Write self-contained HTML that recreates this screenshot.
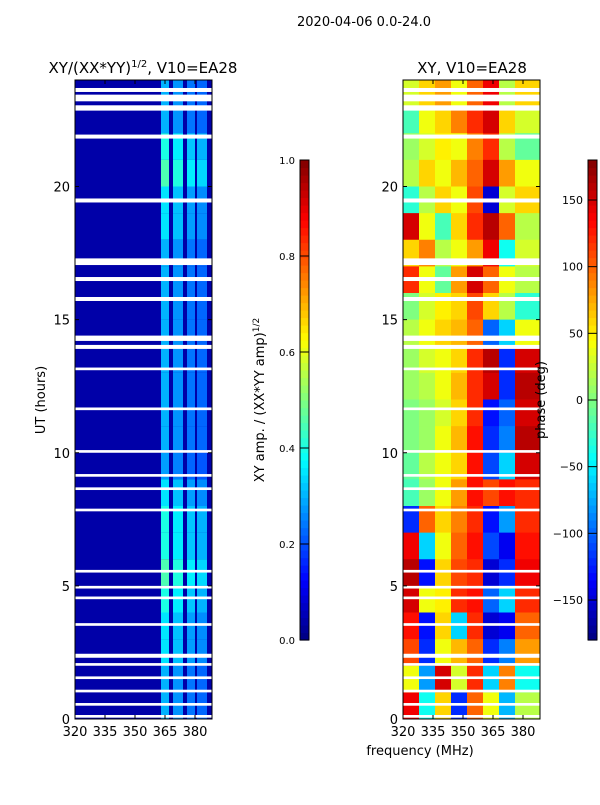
<!DOCTYPE html>
<html><head><meta charset="utf-8"><style>
body{margin:0;background:#fff;font-family:"Liberation Sans","DejaVu Sans",sans-serif;}
svg text{font-family:"DejaVu Sans","Liberation Sans",sans-serif;}
</style></head><body>
<svg id="fig" width="600" height="800" xmlns="http://www.w3.org/2000/svg">
<rect width="600" height="800" fill="#fff"/>
<text x="364" y="26" font-size="13" text-anchor="middle">2020-04-06 0.0-24.0</text>
<text x="143" y="73" font-size="15" text-anchor="middle">XY/(XX*YY)<tspan font-size="10" dy="-6">1/2</tspan><tspan dy="6">, V10=EA28</tspan></text>
<text x="472" y="73" font-size="15" text-anchor="middle">XY, V10=EA28</text>
<g id="p1"></g>
<g id="p2"></g>
<g id="cb1"></g>
<g id="cb2"></g>
<text transform="translate(45,400) rotate(-90)" font-size="13" text-anchor="middle">UT (hours)</text>
<text transform="translate(264,400) rotate(-90)" font-size="13" text-anchor="middle">XY amp. / (XX*YY amp)<tspan font-size="9" dy="-5">1/2</tspan></text>
<text transform="translate(545,400) rotate(-90)" font-size="13" text-anchor="middle">phase (deg)</text>
<text x="420" y="755" font-size="13" text-anchor="middle">frequency (MHz)</text>
</svg>
<script>
const hours=[23,22,21,20,19,18,17,16,15,14,13,12,11,10,9,8,7,6,5,4,3,2,1,0];
const ampBandLevel=[0.3,0.3,0.4,0.45,0.35,0.35,0.3,0.3,0.3,0.3,0.3,0.3,0.3,0.3,0.28,0.35,0.4,0.4,0.45,0.4,0.35,0.35,0.3,0.3];
const ampBandEdges=[[363,367,1.0],[369,374,0.9],[376,380,0.8],[381,386,0.75]];
const phaseColEdges=[320,328,336,344,352,360,368,376,388.5];
const phaseVals=[
[30,60,80,40,100,140,20,60],[-20,40,60,90,120,150,60,30],[10,30,50,40,90,120,20,-10],
[20,60,40,70,100,150,80,40],[-30,20,60,40,110,-150,30,60],[150,40,-20,60,120,160,100,20],
[60,90,20,40,80,140,-40,30],[120,40,-10,80,150,100,40,20],[0,30,50,60,110,60,20,-30],
[20,40,60,70,100,-100,-60,40],[10,30,40,60,120,160,-120,150],[10,20,40,70,120,150,-120,160],
[0,10,30,60,120,-130,-100,150],[0,10,40,70,130,-120,-90,160],[-10,20,40,60,130,-110,-60,150],
[-20,10,40,80,130,110,130,120],[-120,100,60,90,120,-130,-80,120],[140,-60,40,100,130,-110,-140,130],
[160,-130,60,110,120,-150,-120,140],[150,40,50,120,130,-100,-60,120],[130,-130,60,-60,120,-150,-140,100],
[110,-120,40,70,100,-120,-90,80],[40,-80,150,30,120,-60,90,-40],[140,-40,60,-120,100,40,-70,20]];
const gaps=[[23.2,23.45],[23.55,23.7],[22.85,23.05],[21.8,21.95],[19.4,19.55],[17.05,17.3],[16.45,16.6],[15.7,15.85],[14.2,14.4],[13.9,14.05],[13.1,13.2],[11.6,11.7],[10.0,10.1],[9.1,9.2],[8.6,8.7],[7.8,7.9],[5.5,5.6],[4.9,5.0],[4.5,4.6],[3.5,3.6],[2.3,2.45],[2.0,2.1],[1.5,1.6],[1.0,1.1],[0.5,0.6],[0.05,0.15]];
const xTicks=[320,335,350,365,380];
const yTicks=[0,5,10,15,20];
const ampTicks=[0.0,0.2,0.4,0.6,0.8,1.0];
const phaseTicks=[-150,-100,-50,0,50,100,150];
const NS="http://www.w3.org/2000/svg";
function jet(v){v=Math.max(0,Math.min(1,v));const f=t=>Math.round(255*Math.max(0,Math.min(1,1.5-Math.abs(4*v-t))));return `rgb(${f(3)},${f(2)},${f(1)})`;}
function el(p,t,a){const e=document.createElementNS(NS,t);for(const k in a)e.setAttribute(k,a[k]);p.appendChild(e);return e;}
const fMin=320,fMax=388.5,yTop=80,yBot=719;
function mkX(x0,x1){return f=>x0+(f-fMin)/(fMax-fMin)*(x1-x0);}
const yS=h=>yBot-h/24*(yBot-yTop);
function axes(g,x0,x1){const xs=mkX(x0,x1);
 gaps.forEach(gp=>{const r=el(g,'rect',{x:x0,y:yS(gp[1]),width:x1-x0,height:yS(gp[0])-yS(gp[1]),fill:'#fff'});});
 el(g,'rect',{x:x0,y:yTop,width:x1-x0,height:yBot-yTop,fill:'none',stroke:'#000'});
 xTicks.forEach(t=>{const x=xs(t);el(g,'line',{x1:x,x2:x,y1:yBot,y2:yBot-4,stroke:'#000'});el(g,'line',{x1:x,x2:x,y1:yTop,y2:yTop+4,stroke:'#000'});
  const tx=el(g,'text',{x:x,y:yBot+17,'font-size':13,'text-anchor':'middle'});tx.textContent=t;});
 yTicks.forEach(t=>{const y=yS(t);el(g,'line',{x1:x0,x2:x0+4,y1:y,y2:y,stroke:'#000'});el(g,'line',{x1:x1,x2:x1-4,y1:y,y2:y,stroke:'#000'});
  const tx=el(g,'text',{x:x0-5,y:y+5,'font-size':13,'text-anchor':'end'});tx.textContent=t;});}
const g1=document.getElementById('p1');const xa=mkX(75,212);
el(g1,'rect',{x:75,y:yTop,width:137,height:yBot-yTop,fill:jet(0.04)});
hours.forEach((h,i)=>{ampBandEdges.forEach(b=>{const r=el(g1,'rect',{x:xa(b[0]),y:yS(h+1),width:xa(b[1])-xa(b[0]),height:yS(h)-yS(h+1),fill:jet(ampBandLevel[i]*b[2])});
 });});
axes(g1,75,212);
const g2=document.getElementById('p2');const xp=mkX(403,540);
hours.forEach((h,i)=>{phaseVals[i].forEach((v,j)=>{const r=el(g2,'rect',{x:xp(phaseColEdges[j]),y:yS(h+1),width:xp(phaseColEdges[j+1])-xp(phaseColEdges[j])+0.5,height:yS(h)-yS(h+1)+0.5,fill:jet((v+180)/360)});
 });});
axes(g2,403,540);
function cbar(g,x,lo,hi,ticks,dec){const y0=160,y1=640,n=64;
 for(let k=0;k<n;k++){el(g,'rect',{x:x,y:y1-(k+1)*(y1-y0)/n,width:9,height:(y1-y0)/n+0.6,fill:jet((k+0.5)/n)});}
 el(g,'rect',{x:x,y:y0,width:9,height:y1-y0,fill:'none',stroke:'#000'});
 ticks.forEach(t=>{const y=y1-(t-lo)/(hi-lo)*(y1-y0);el(g,'line',{x1:x,x2:x+9,y1:y,y2:y,stroke:'#000'});
  const tx=el(g,'text',{x:x-5,y:y+4,'font-size':dec?10:11,'text-anchor':'end'});tx.textContent=dec?t.toFixed(1):(t<0?'\u2212'+(-t):t);
  });}
cbar(document.getElementById('cb1'),300,0,1,ampTicks,true);
cbar(document.getElementById('cb2'),588,-180,180,phaseTicks,false);
</script>
</body></html>
